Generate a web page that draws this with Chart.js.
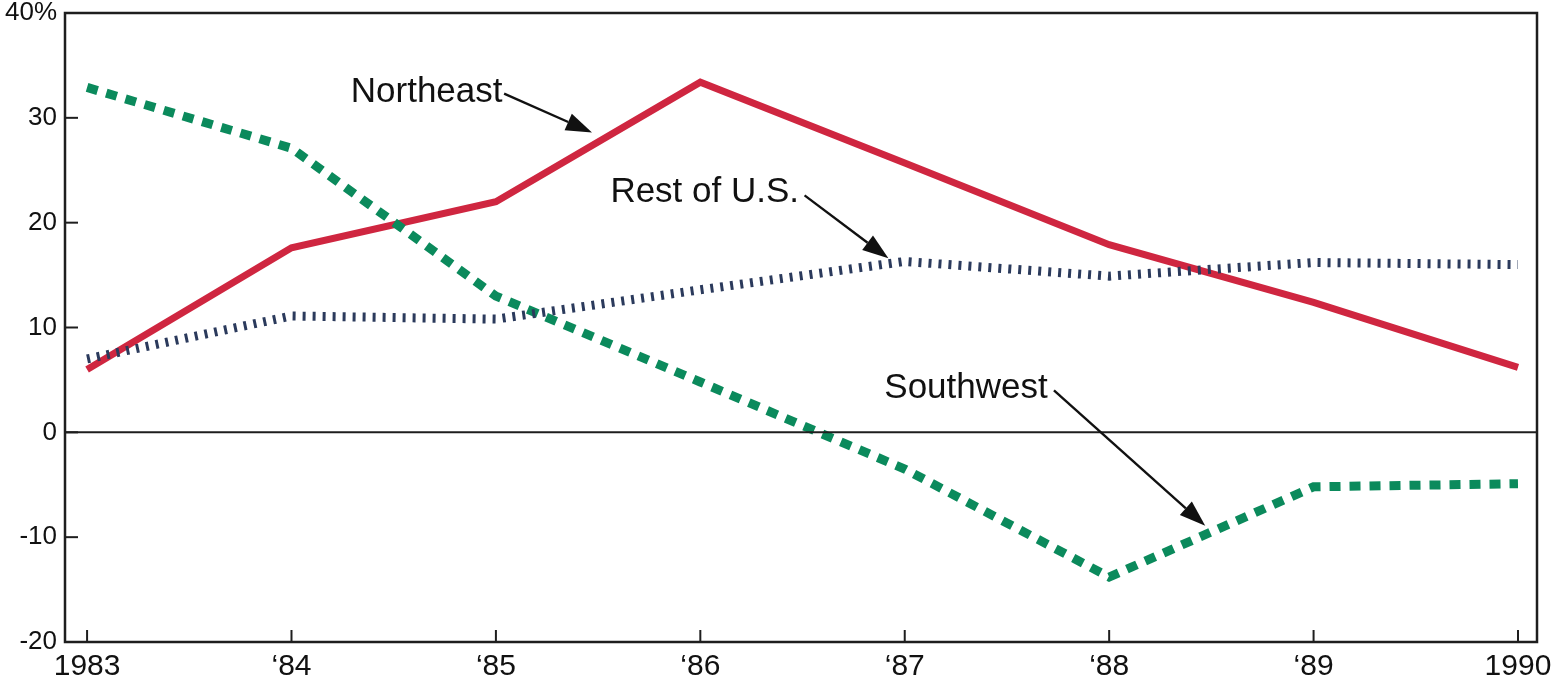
<!DOCTYPE html>
<html>
<head>
<meta charset="utf-8">
<script src="https://cdn.jsdelivr.net/npm/chart.js@4.4.1/dist/chart.umd.min.js"></script>
<style>
    html, body { margin: 0; padding: 0; background: #fff; }
    #wrap { width: 1553px; height: 685px; position: relative; }
</style>
</head>
<body>
<div id="wrap"><canvas id="chart"></canvas></div>
<script>
// Data
const years = [1983, 1984, 1985, 1986, 1987, 1988, 1989, 1990];
const yearLabels = ['1983', '\u201884', '\u201885', '\u201886', '\u201887', '\u201888', '\u201889', '1990'];
const northeast = [6.0, 17.6, 22.0, 33.4, 25.7, 17.9, 12.4, 6.2];
const restOfUS = [7.0, 11.1, 10.8, 13.6, 16.3, 14.9, 16.2, 16.0];
const southwest = [32.9, 27.1, 13.0, 4.8, -3.5, -13.8, -5.2, -4.9];
const yTicks = [-20, -10, 0, 10, 20, 30, 40];

// Callout labels, in data units
const callouts = [
    { text: 'Northeast', x: 1984.29, y: 32.4, from: [1985.04, 32.3], to: [1985.47, 28.6] },
    { text: 'Rest of U.S.', x: 1985.56, y: 22.9, from: [1986.51, 22.6], to: [1986.92, 16.6] },
    { text: 'Southwest', x: 1986.90, y: 4.2, from: [1987.73, 4.0], to: [1988.47, -8.9] },
];

function toPoints(values) {
    return values.map((v, i) => ({ x: years[i], y: v }));
}

const FONT = '"Liberation Sans", Arial, Helvetica, sans-serif';

const framePlugin = {
    id: 'frame',
    afterDatasetsDraw(chart) {
        const ctx = chart.ctx;
        const area = chart.chartArea;
        const xs = chart.scales.x;
        const ys = chart.scales.y;
        ctx.save();
        ctx.strokeStyle = '#1e1e1e';
        ctx.lineWidth = 2.5;
        ctx.strokeRect(area.left, area.top, area.right - area.left, area.bottom - area.top);

        // zero line
        ctx.lineWidth = 2;
        ctx.beginPath();
        ctx.moveTo(area.left, ys.getPixelForValue(0));
        ctx.lineTo(area.right, ys.getPixelForValue(0));
        ctx.stroke();

        // inside tick marks
        years.forEach(v => {
            const px = xs.getPixelForValue(v);
            ctx.beginPath();
            ctx.moveTo(px, area.bottom);
            ctx.lineTo(px, area.bottom - 12);
            ctx.stroke();
        });
        yTicks.forEach(v => {
            const py = ys.getPixelForValue(v);
            ctx.beginPath();
            ctx.moveTo(area.left, py);
            ctx.lineTo(area.left + 13, py);
            ctx.stroke();
        });
        ctx.restore();
    },
    afterDraw(chart) {
        const ctx = chart.ctx;
        const xs = chart.scales.x;
        const ys = chart.scales.y;
        ctx.save();
        ctx.fillStyle = '#111';
        ctx.strokeStyle = '#111';
        ctx.font = '35px ' + FONT;
        ctx.textBaseline = 'middle';
        ctx.textAlign = 'left';
        callouts.forEach(c => {
            ctx.fillText(c.text, xs.getPixelForValue(c.x), ys.getPixelForValue(c.y));
            const x1 = xs.getPixelForValue(c.from[0]), y1 = ys.getPixelForValue(c.from[1]);
            const x2 = xs.getPixelForValue(c.to[0]), y2 = ys.getPixelForValue(c.to[1]);
            const ang = Math.atan2(y2 - y1, x2 - x1);
            const headLen = 26, headW = 9;
            const bx = x2 - headLen * Math.cos(ang), by = y2 - headLen * Math.sin(ang);
            ctx.lineWidth = 2.4;
            ctx.beginPath();
            ctx.moveTo(x1, y1);
            ctx.lineTo(bx, by);
            ctx.stroke();
            ctx.beginPath();
            ctx.moveTo(x2, y2);
            ctx.lineTo(bx + headW * Math.sin(ang), by - headW * Math.cos(ang));
            ctx.lineTo(bx - headW * Math.sin(ang), by + headW * Math.cos(ang));
            ctx.closePath();
            ctx.fill();
        });
        ctx.restore();
    }
};

new Chart(document.getElementById('chart'), {
    type: 'line',
    data: {
        datasets: [
            {
                label: 'Rest of U.S.',
                data: toPoints(restOfUS),
                borderColor: '#2b3a5c',
                borderWidth: 9,
                borderDash: [3, 7],
                borderCapStyle: 'butt',
                pointRadius: 0,
                tension: 0,
            },
            {
                label: 'Southwest',
                data: toPoints(southwest),
                borderColor: '#0b8a5c',
                borderWidth: 9,
                borderDash: [11, 9],
                borderCapStyle: 'butt',
                pointRadius: 0,
                tension: 0,
            },
            {
                label: 'Northeast',
                data: toPoints(northeast),
                borderColor: '#cf2640',
                borderWidth: 7,
                pointRadius: 0,
                tension: 0,
            },
        ]
    },
    options: {
        responsive: true,
        maintainAspectRatio: false,
        animation: false,
        layout: { padding: { top: 13, right: 16, left: 0, bottom: 0 } },
        scales: {
            x: {
                type: 'linear',
                min: 1982.892,
                max: 1990.093,
                afterBuildTicks: scale => { scale.ticks = years.map(v => ({ value: v })); },
                afterFit: scale => { scale.height = 43; scale.paddingLeft = 0; scale.paddingRight = 0; },
                grid: { display: false, drawTicks: false },
                border: { display: false },
                ticks: {
                    autoSkip: false,
                    maxRotation: 0,
                    padding: 7,
                    color: '#111',
                    font: { family: FONT, size: 30 },
                    callback: value => yearLabels[years.indexOf(value)],
                },
            },
            y: {
                min: -20,
                max: 40,
                afterBuildTicks: scale => { scale.ticks = yTicks.map(v => ({ value: v })); },
                afterFit: scale => { scale.width = 65; scale.paddingTop = 0; scale.paddingBottom = 0; },
                grid: { display: false, drawTicks: false },
                border: { display: false },
                ticks: {
                    padding: 8,
                    color: '#111',
                    font: { family: FONT, size: 26 },
                    callback: value => value === 40 ? '40%' : String(value),
                },
            },
        },
        plugins: {
            legend: { display: false },
            tooltip: { enabled: false },
        },
    },
    plugins: [framePlugin],
});
</script>
</body>
</html>
